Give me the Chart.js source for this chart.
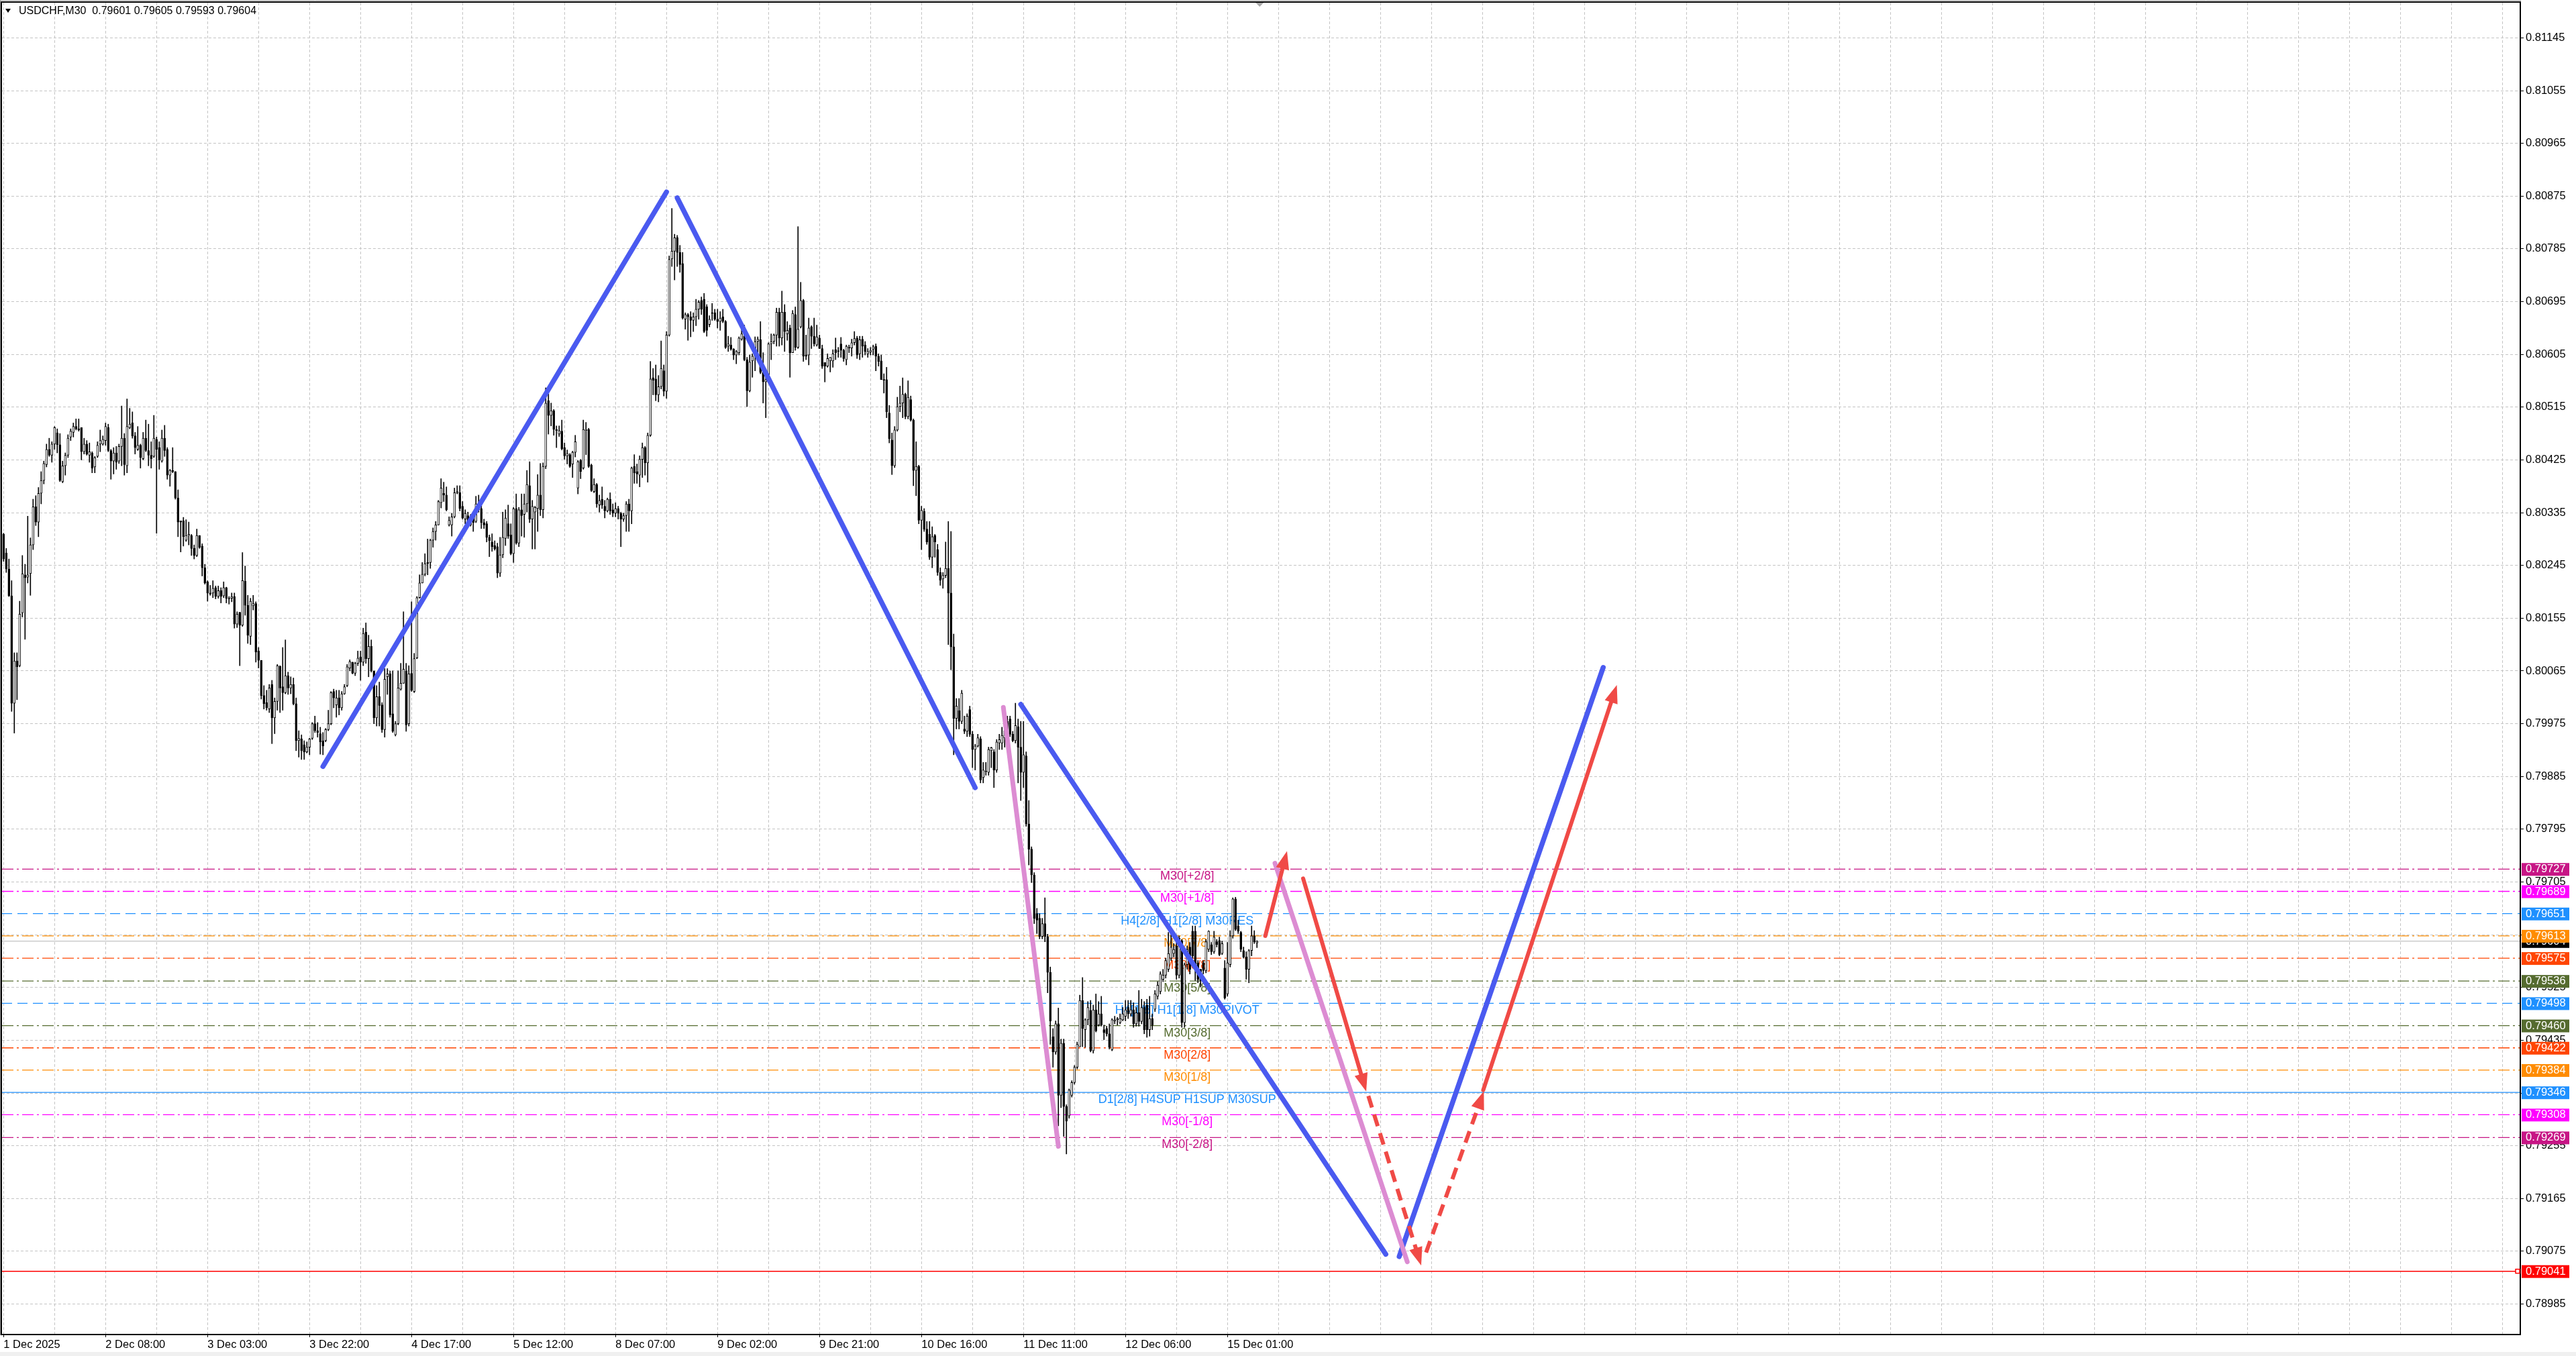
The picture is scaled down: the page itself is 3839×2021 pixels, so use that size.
<!DOCTYPE html>
<html>
<head>
<meta charset="utf-8">
<title>USDCHF,M30</title>
<script src="https://cdn.jsdelivr.net/npm/chart.js@4.4.1/dist/chart.umd.min.js"></script>
<style>
  html, body { margin: 0; padding: 0; background: #fff; overflow: hidden; }
  canvas { display: block; }
</style>
</head>
<body>
<canvas id="chart" width="3839" height="2021"></canvas>
<script>
// ---- data (one value per M30 bar) ----
const symbolName = 'USDCHF,M30';

const opens = [
  0.80298,0.80266,0.80239,0.80193,0.80010,0.80082,0.80074,0.80164,0.80229,0.80225,
  0.80231,0.80280,0.80345,0.80319,0.80368,0.80390,0.80417,0.80443,0.80433,0.80452,
  0.80471,0.80451,0.80388,0.80415,0.80433,0.80464,0.80472,0.80482,0.80478,0.80480,
  0.80439,0.80452,0.80433,0.80437,0.80413,0.80431,0.80452,0.80452,0.80458,0.80480,
  0.80441,0.80423,0.80437,0.80423,0.80448,0.80462,0.80415,0.80480,0.80488,0.80466,
  0.80443,0.80450,0.80427,0.80462,0.80441,0.80433,0.80431,0.80460,0.80446,0.80423,
  0.80462,0.80443,0.80399,0.80407,0.80405,0.80360,0.80321,0.80321,0.80288,0.80296,
  0.80296,0.80274,0.80262,0.80296,0.80278,0.80241,0.80217,0.80198,0.80198,0.80207,
  0.80192,0.80202,0.80193,0.80207,0.80189,0.80189,0.80192,0.80145,0.80165,0.80143,
  0.80218,0.80177,0.80124,0.80176,0.80180,0.80099,0.80083,0.80023,0.80011,0.80000,
  0.80042,0.79985,0.80013,0.80073,0.80038,0.80028,0.80057,0.80036,0.80042,0.80009,
  0.79946,0.79949,0.79939,0.79927,0.79935,0.79950,0.79975,0.79963,0.79958,0.79946,
  0.79946,0.79965,0.79975,0.80030,0.80007,0.80019,0.80002,0.80026,0.80040,0.80070,
  0.80080,0.80061,0.80078,0.80089,0.80080,0.80131,0.80086,0.80107,0.80065,0.79985,
  0.80021,0.80007,0.79965,0.80055,0.80060,0.79992,0.79956,0.79975,0.80034,0.80044,
  0.80065,0.79975,0.80061,0.80030,0.80087,0.80190,0.80215,0.80230,0.80250,0.80250,
  0.80288,0.80303,0.80314,0.80352,0.80368,0.80365,0.80314,0.80314,0.80328,0.80369,
  0.80369,0.80346,0.80324,0.80330,0.80314,0.80326,0.80320,0.80350,0.80342,0.80318,
  0.80316,0.80293,0.80285,0.80279,0.80277,0.80232,0.80263,0.80291,0.80316,0.80297,
  0.80265,0.80342,0.80283,0.80340,0.80332,0.80350,0.80381,0.80324,0.80336,0.80342,
  0.80365,0.80340,0.80414,0.80526,0.80501,0.80509,0.80477,0.80469,0.80474,0.80446,
  0.80432,0.80434,0.80418,0.80438,0.80377,0.80424,0.80411,0.80475,0.80477,0.80416,
  0.80371,0.80383,0.80348,0.80358,0.80346,0.80338,0.80358,0.80340,0.80334,0.80342,
  0.80334,0.80324,0.80330,0.80350,0.80338,0.80414,0.80405,0.80399,0.80426,0.80446,
  0.80420,0.80467,0.80565,0.80563,0.80536,0.80550,0.80577,0.80542,0.80638,0.80768,
  0.80781,0.80804,0.80779,0.80760,0.80665,0.80673,0.80669,0.80663,0.80669,0.80682,
  0.80697,0.80699,0.80686,0.80656,0.80676,0.80676,0.80665,0.80661,0.80669,0.80661,
  0.80619,0.80621,0.80614,0.80604,0.80608,0.80631,0.80636,0.80596,0.80543,0.80594,
  0.80602,0.80627,0.80630,0.80574,0.80558,0.80558,0.80623,0.80627,0.80638,0.80677,
  0.80633,0.80677,0.80640,0.80650,0.80608,0.80673,0.80617,0.80652,0.80697,0.80604,
  0.80604,0.80652,0.80636,0.80621,0.80633,0.80615,0.80591,0.80585,0.80594,0.80594,
  0.80613,0.80611,0.80623,0.80612,0.80596,0.80617,0.80616,0.80625,0.80633,0.80606,
  0.80631,0.80621,0.80606,0.80609,0.80614,0.80619,0.80602,0.80594,0.80562,0.80562,
  0.80505,0.80459,0.80415,0.80476,0.80516,0.80522,0.80537,0.80499,0.80528,0.80493,
  0.80407,0.80414,0.80322,0.80337,0.80307,0.80298,0.80259,0.80296,0.80272,0.80233,
  0.80222,0.80228,0.80240,0.80198,0.80106,0.79984,0.79997,0.79979,0.79966,0.79962,
  0.79999,0.79957,0.79931,0.79937,0.79949,0.79883,0.79894,0.79892,0.79929,0.79927,
  0.79896,0.79942,0.79942,0.79951,0.79979,0.79983,0.79957,0.79946,0.79970,0.79935,
  0.79892,0.79920,0.79804,0.79761,0.79717,0.79651,0.79643,0.79612,0.79634,0.79612,
  0.79551,0.79441,0.79415,0.79463,0.79341,0.79430,0.79322,0.79306,0.79341,0.79363,
  0.79389,0.79424,0.79503,0.79453,0.79470,0.79486,0.79417,0.79487,0.79461,0.79480,
  0.79453,0.79455,0.79446,0.79419,0.79468,0.79470,0.79465,0.79470,0.79476,0.79491,
  0.79480,0.79487,0.79463,0.79482,0.79467,0.79491,0.79495,0.79453,0.79472,0.79488,
  0.79510,0.79518,0.79539,0.79546,0.79556,0.79575,0.79583,0.79596,0.79546,0.79605,
  0.79465,0.79564,0.79594,0.79621,0.79621,0.79567,0.79556,0.79567,0.79554,0.79590,
  0.79598,0.79586,0.79603,0.79605,0.79583,0.79558,0.79514,0.79564,0.79613,0.79676,
  0.79630,0.79619,0.79588,0.79577,0.79556,0.79588,0.79613,0.79601
];

const highs = [
  0.80300,0.80274,0.80256,0.80219,0.80096,0.80096,0.80184,0.80262,0.80247,0.80329,
  0.80292,0.80358,0.80364,0.80378,0.80405,0.80423,0.80452,0.80462,0.80456,0.80482,
  0.80478,0.80470,0.80423,0.80437,0.80468,0.80478,0.80488,0.80495,0.80495,0.80480,
  0.80462,0.80458,0.80454,0.80439,0.80431,0.80456,0.80476,0.80466,0.80488,0.80486,
  0.80443,0.80446,0.80448,0.80452,0.80517,0.80470,0.80529,0.80513,0.80507,0.80472,
  0.80482,0.80452,0.80472,0.80493,0.80486,0.80456,0.80501,0.80464,0.80456,0.80476,
  0.80484,0.80446,0.80409,0.80446,0.80405,0.80374,0.80321,0.80327,0.80323,0.80319,
  0.80298,0.80280,0.80307,0.80296,0.80282,0.80247,0.80219,0.80211,0.80219,0.80210,
  0.80210,0.80207,0.80217,0.80208,0.80192,0.80198,0.80198,0.80166,0.80165,0.80267,
  0.80244,0.80194,0.80189,0.80194,0.80183,0.80105,0.80083,0.80040,0.80032,0.80042,
  0.80049,0.80019,0.80076,0.80074,0.80105,0.80118,0.80063,0.80055,0.80053,0.80019,
  0.79963,0.79956,0.79946,0.79944,0.79950,0.79977,0.79988,0.79977,0.79969,0.79960,
  0.79967,0.79998,0.80030,0.80034,0.80032,0.80032,0.80030,0.80042,0.80076,0.80084,
  0.80080,0.80080,0.80099,0.80099,0.80138,0.80147,0.80126,0.80118,0.80065,0.80040,
  0.80046,0.80011,0.80069,0.80069,0.80065,0.80065,0.79979,0.80065,0.80078,0.80166,
  0.80078,0.80074,0.80183,0.80095,0.80192,0.80229,0.80250,0.80265,0.80290,0.80290,
  0.80309,0.80320,0.80356,0.80393,0.80387,0.80379,0.80328,0.80334,0.80377,0.80381,
  0.80381,0.80354,0.80340,0.80336,0.80332,0.80332,0.80363,0.80365,0.80348,0.80324,
  0.80320,0.80297,0.80299,0.80287,0.80283,0.80293,0.80336,0.80340,0.80348,0.80316,
  0.80344,0.80367,0.80344,0.80367,0.80367,0.80407,0.80422,0.80356,0.80346,0.80400,
  0.80419,0.80420,0.80548,0.80538,0.80522,0.80511,0.80483,0.80483,0.80493,0.80454,
  0.80442,0.80436,0.80440,0.80467,0.80424,0.80426,0.80493,0.80489,0.80479,0.80418,
  0.80393,0.80385,0.80365,0.80379,0.80356,0.80360,0.80369,0.80350,0.80352,0.80346,
  0.80336,0.80334,0.80354,0.80358,0.80413,0.80434,0.80418,0.80432,0.80454,0.80448,
  0.80471,0.80593,0.80581,0.80587,0.80569,0.80628,0.80587,0.80644,0.80773,0.80854,
  0.80810,0.80808,0.80791,0.80779,0.80676,0.80675,0.80678,0.80676,0.80699,0.80697,
  0.80703,0.80709,0.80690,0.80671,0.80692,0.80682,0.80682,0.80678,0.80682,0.80663,
  0.80636,0.80634,0.80615,0.80612,0.80635,0.80654,0.80655,0.80600,0.80604,0.80606,
  0.80635,0.80635,0.80661,0.80608,0.80566,0.80625,0.80640,0.80640,0.80684,0.80684,
  0.80713,0.80690,0.80661,0.80655,0.80680,0.80686,0.80823,0.80728,0.80699,0.80638,
  0.80667,0.80654,0.80667,0.80655,0.80638,0.80621,0.80591,0.80606,0.80600,0.80613,
  0.80633,0.80617,0.80634,0.80614,0.80621,0.80621,0.80631,0.80644,0.80636,0.80636,
  0.80636,0.80627,0.80615,0.80617,0.80621,0.80623,0.80606,0.80604,0.80572,0.80583,
  0.80518,0.80471,0.80482,0.80532,0.80551,0.80565,0.80539,0.80560,0.80534,0.80495,
  0.80456,0.80416,0.80346,0.80342,0.80320,0.80320,0.80311,0.80298,0.80281,0.80241,
  0.80233,0.80285,0.80320,0.80303,0.80128,0.80018,0.80018,0.80032,0.79988,0.79992,
  0.80005,0.79962,0.79940,0.79957,0.79953,0.79909,0.79909,0.79935,0.79935,0.79931,
  0.79948,0.79957,0.79969,0.79970,0.79988,0.79988,0.79962,0.80010,0.79983,0.79979,
  0.79979,0.79927,0.79844,0.79765,0.79721,0.79660,0.79651,0.79643,0.79678,0.79616,
  0.79560,0.79455,0.79468,0.79490,0.79437,0.79437,0.79325,0.79352,0.79366,0.79392,
  0.79432,0.79512,0.79542,0.79472,0.79501,0.79503,0.79495,0.79514,0.79501,0.79510,
  0.79461,0.79459,0.79463,0.79472,0.79476,0.79474,0.79480,0.79491,0.79503,0.79503,
  0.79503,0.79499,0.79491,0.79520,0.79505,0.79501,0.79505,0.79510,0.79480,0.79520,
  0.79535,0.79552,0.79556,0.79575,0.79619,0.79624,0.79600,0.79602,0.79613,0.79607,
  0.79567,0.79596,0.79602,0.79630,0.79630,0.79571,0.79556,0.79571,0.79607,0.79622,
  0.79602,0.79621,0.79607,0.79611,0.79604,0.79571,0.79602,0.79622,0.79678,0.79679,
  0.79640,0.79621,0.79594,0.79586,0.79590,0.79630,0.79622,0.79605
];

const lows = [
  0.80252,0.80233,0.80192,0.79996,0.79959,0.80016,0.80072,0.80157,0.80119,0.80215,
  0.80194,0.80272,0.80313,0.80294,0.80350,0.80384,0.80413,0.80431,0.80421,0.80443,
  0.80437,0.80388,0.80386,0.80399,0.80429,0.80458,0.80464,0.80476,0.80474,0.80425,
  0.80435,0.80433,0.80421,0.80403,0.80403,0.80429,0.80439,0.80450,0.80450,0.80439,
  0.80392,0.80401,0.80409,0.80419,0.80415,0.80399,0.80403,0.80478,0.80462,0.80435,
  0.80441,0.80411,0.80425,0.80439,0.80415,0.80411,0.80429,0.80300,0.80409,0.80421,
  0.80431,0.80392,0.80380,0.80403,0.80358,0.80294,0.80268,0.80278,0.80286,0.80280,
  0.80262,0.80256,0.80260,0.80274,0.80227,0.80213,0.80184,0.80194,0.80190,0.80188,
  0.80189,0.80181,0.80190,0.80181,0.80179,0.80183,0.80138,0.80139,0.80074,0.80141,
  0.80160,0.80112,0.80110,0.80169,0.80080,0.80070,0.80017,0.80000,0.79998,0.79994,
  0.79941,0.79958,0.79998,0.79994,0.79998,0.80026,0.80025,0.80026,0.80007,0.79929,
  0.79918,0.79914,0.79914,0.79925,0.79922,0.79948,0.79960,0.79952,0.79923,0.79922,
  0.79944,0.79963,0.79973,0.80002,0.79986,0.79990,0.79998,0.80025,0.80038,0.80065,
  0.80060,0.80057,0.80074,0.80049,0.80074,0.80078,0.80055,0.80063,0.79975,0.79971,
  0.79971,0.79960,0.79952,0.80025,0.79986,0.79960,0.79954,0.79973,0.80032,0.80044,
  0.79962,0.79971,0.80030,0.80028,0.80086,0.80189,0.80215,0.80227,0.80229,0.80240,
  0.80276,0.80288,0.80314,0.80343,0.80354,0.80338,0.80312,0.80295,0.80326,0.80367,
  0.80338,0.80324,0.80316,0.80314,0.80312,0.80303,0.80318,0.80336,0.80308,0.80308,
  0.80285,0.80260,0.80269,0.80271,0.80224,0.80226,0.80258,0.80279,0.80291,0.80263,
  0.80250,0.80281,0.80277,0.80295,0.80293,0.80336,0.80318,0.80273,0.80273,0.80303,
  0.80330,0.80326,0.80410,0.80469,0.80483,0.80467,0.80446,0.80465,0.80442,0.80426,
  0.80418,0.80412,0.80395,0.80430,0.80367,0.80393,0.80409,0.80434,0.80412,0.80371,
  0.80369,0.80344,0.80336,0.80342,0.80326,0.80336,0.80332,0.80328,0.80328,0.80324,
  0.80277,0.80320,0.80303,0.80303,0.80316,0.80385,0.80385,0.80379,0.80395,0.80399,
  0.80387,0.80465,0.80536,0.80526,0.80524,0.80546,0.80534,0.80530,0.80636,0.80755,
  0.80732,0.80755,0.80745,0.80665,0.80648,0.80629,0.80635,0.80644,0.80654,0.80665,
  0.80673,0.80642,0.80636,0.80652,0.80663,0.80663,0.80650,0.80646,0.80659,0.80615,
  0.80610,0.80612,0.80596,0.80589,0.80604,0.80629,0.80594,0.80516,0.80541,0.80566,
  0.80577,0.80600,0.80572,0.80522,0.80497,0.80556,0.80596,0.80623,0.80619,0.80619,
  0.80621,0.80610,0.80629,0.80566,0.80608,0.80612,0.80615,0.80650,0.80593,0.80596,
  0.80587,0.80615,0.80619,0.80619,0.80615,0.80581,0.80558,0.80583,0.80575,0.80583,
  0.80596,0.80600,0.80600,0.80593,0.80587,0.80608,0.80602,0.80621,0.80598,0.80596,
  0.80600,0.80604,0.80600,0.80604,0.80604,0.80577,0.80585,0.80562,0.80539,0.80497,
  0.80454,0.80400,0.80412,0.80474,0.80507,0.80497,0.80495,0.80495,0.80491,0.80381,
  0.80364,0.80316,0.80272,0.80303,0.80281,0.80255,0.80241,0.80259,0.80228,0.80211,
  0.80206,0.80224,0.80110,0.80067,0.79922,0.79966,0.79966,0.79975,0.79958,0.79953,
  0.79953,0.79900,0.79896,0.79935,0.79874,0.79874,0.79887,0.79887,0.79900,0.79866,
  0.79892,0.79931,0.79931,0.79935,0.79949,0.79953,0.79944,0.79942,0.79874,0.79844,
  0.79866,0.79800,0.79734,0.79704,0.79634,0.79617,0.79608,0.79608,0.79603,0.79516,
  0.79428,0.79389,0.79411,0.79289,0.79320,0.79271,0.79241,0.79302,0.79338,0.79360,
  0.79386,0.79424,0.79424,0.79423,0.79461,0.79415,0.79413,0.79449,0.79459,0.79459,
  0.79436,0.79442,0.79420,0.79417,0.79463,0.79461,0.79463,0.79468,0.79468,0.79472,
  0.79476,0.79457,0.79459,0.79459,0.79463,0.79446,0.79440,0.79442,0.79453,0.79484,
  0.79505,0.79514,0.79535,0.79541,0.79552,0.79571,0.79577,0.79539,0.79541,0.79457,
  0.79457,0.79556,0.79548,0.79575,0.79537,0.79533,0.79526,0.79548,0.79550,0.79586,
  0.79581,0.79583,0.79594,0.79579,0.79581,0.79505,0.79510,0.79560,0.79609,0.79622,
  0.79617,0.79586,0.79575,0.79539,0.79533,0.79579,0.79600,0.79593
];

const closes = [
  0.80256,0.80239,0.80193,0.80010,0.80082,0.80072,0.80162,0.80231,0.80224,0.80229,
  0.80280,0.80345,0.80319,0.80368,0.80390,0.80419,0.80443,0.80433,0.80452,0.80480,
  0.80451,0.80390,0.80415,0.80433,0.80462,0.80474,0.80482,0.80478,0.80476,0.80439,
  0.80452,0.80435,0.80439,0.80411,0.80429,0.80450,0.80458,0.80460,0.80482,0.80441,
  0.80423,0.80437,0.80421,0.80448,0.80462,0.80417,0.80482,0.80486,0.80466,0.80446,
  0.80450,0.80429,0.80462,0.80441,0.80433,0.80427,0.80462,0.80443,0.80425,0.80462,
  0.80441,0.80399,0.80407,0.80405,0.80360,0.80319,0.80319,0.80294,0.80296,0.80298,
  0.80274,0.80262,0.80296,0.80276,0.80241,0.80215,0.80198,0.80196,0.80206,0.80192,
  0.80202,0.80192,0.80207,0.80189,0.80188,0.80192,0.80145,0.80162,0.80143,0.80219,
  0.80177,0.80126,0.80184,0.80180,0.80097,0.80083,0.80023,0.80009,0.80002,0.80036,
  0.79985,0.80013,0.80074,0.80036,0.80028,0.80057,0.80036,0.80042,0.80009,0.79946,
  0.79950,0.79929,0.79927,0.79935,0.79949,0.79975,0.79963,0.79960,0.79944,0.79937,
  0.79965,0.79975,0.80028,0.80019,0.80019,0.80002,0.80026,0.80038,0.80072,0.80081,
  0.80061,0.80078,0.80087,0.80080,0.80129,0.80086,0.80107,0.80065,0.79985,0.80021,
  0.80006,0.79965,0.80051,0.80060,0.79990,0.79962,0.79975,0.80036,0.80044,0.80068,
  0.79973,0.80060,0.80032,0.80086,0.80190,0.80215,0.80230,0.80248,0.80248,0.80288,
  0.80303,0.80314,0.80354,0.80377,0.80365,0.80340,0.80322,0.80328,0.80369,0.80371,
  0.80342,0.80326,0.80334,0.80320,0.80328,0.80318,0.80350,0.80340,0.80318,0.80314,
  0.80293,0.80287,0.80277,0.80273,0.80232,0.80263,0.80293,0.80326,0.80295,0.80265,
  0.80342,0.80283,0.80340,0.80330,0.80350,0.80383,0.80324,0.80346,0.80344,0.80365,
  0.80340,0.80414,0.80522,0.80501,0.80509,0.80477,0.80475,0.80475,0.80444,0.80432,
  0.80436,0.80414,0.80438,0.80456,0.80422,0.80405,0.80477,0.80477,0.80414,0.80373,
  0.80383,0.80350,0.80356,0.80348,0.80338,0.80358,0.80338,0.80334,0.80342,0.80334,
  0.80324,0.80330,0.80350,0.80338,0.80411,0.80403,0.80401,0.80426,0.80446,0.80420,
  0.80467,0.80563,0.80561,0.80536,0.80550,0.80581,0.80542,0.80638,0.80767,0.80781,
  0.80804,0.80779,0.80758,0.80667,0.80673,0.80669,0.80663,0.80669,0.80682,0.80694,
  0.80682,0.80644,0.80646,0.80665,0.80675,0.80665,0.80661,0.80667,0.80661,0.80617,
  0.80623,0.80614,0.80604,0.80610,0.80633,0.80640,0.80596,0.80543,0.80592,0.80602,
  0.80627,0.80631,0.80574,0.80558,0.80562,0.80623,0.80627,0.80638,0.80677,0.80633,
  0.80677,0.80644,0.80646,0.80608,0.80675,0.80617,0.80648,0.80697,0.80602,0.80602,
  0.80650,0.80636,0.80623,0.80635,0.80615,0.80585,0.80585,0.80598,0.80600,0.80606,
  0.80608,0.80610,0.80612,0.80598,0.80619,0.80616,0.80625,0.80632,0.80604,0.80630,
  0.80619,0.80610,0.80610,0.80612,0.80618,0.80602,0.80593,0.80562,0.80561,0.80507,
  0.80461,0.80415,0.80476,0.80516,0.80522,0.80537,0.80499,0.80532,0.80493,0.80407,
  0.80414,0.80322,0.80339,0.80307,0.80285,0.80259,0.80294,0.80285,0.80233,0.80220,
  0.80228,0.80240,0.80198,0.80106,0.79984,0.80005,0.79979,0.80027,0.79962,0.79988,
  0.79957,0.79931,0.79937,0.79951,0.79879,0.79896,0.79893,0.79931,0.79934,0.79896,
  0.79944,0.79948,0.79955,0.79963,0.79962,0.79957,0.79946,0.79972,0.79935,0.79892,
  0.79922,0.79804,0.79761,0.79717,0.79643,0.79640,0.79612,0.79634,0.79612,0.79551,
  0.79468,0.79415,0.79463,0.79341,0.79430,0.79322,0.79297,0.79350,0.79363,0.79389,
  0.79428,0.79503,0.79455,0.79470,0.79491,0.79417,0.79487,0.79451,0.79480,0.79461,
  0.79448,0.79446,0.79423,0.79470,0.79470,0.79472,0.79472,0.79480,0.79487,0.79480,
  0.79487,0.79463,0.79482,0.79467,0.79491,0.79453,0.79453,0.79472,0.79461,0.79514,
  0.79529,0.79548,0.79546,0.79571,0.79583,0.79594,0.79590,0.79546,0.79609,0.79465,
  0.79564,0.79590,0.79556,0.79579,0.79556,0.79539,0.79537,0.79554,0.79603,0.79621,
  0.79586,0.79611,0.79598,0.79581,0.79600,0.79507,0.79567,0.79613,0.79676,0.79624,
  0.79621,0.79590,0.79577,0.79556,0.79588,0.79613,0.79603,0.79604
];

// time axis labels (one every 38 bars) and price axis ticks
const timeLabels = ['1 Dec 2025', '2 Dec 08:00', '3 Dec 03:00', '3 Dec 22:00', '4 Dec 17:00',
  '5 Dec 12:00', '8 Dec 07:00', '9 Dec 02:00', '9 Dec 21:00', '10 Dec 16:00',
  '11 Dec 11:00', '12 Dec 06:00', '15 Dec 01:00'];
const priceTicks = [0.78985, 0.79075, 0.79165, 0.79255, 0.79345, 0.79435, 0.79525, 0.79615,
  0.79705, 0.79795, 0.79885, 0.79975, 0.80065, 0.80155, 0.80245, 0.80335, 0.80425, 0.80515,
  0.80605, 0.80695, 0.80785, 0.80875, 0.80965, 0.81055, 0.81145];

// Murrey-math style levels
const levelPrices = [0.79727, 0.79689, 0.79651, 0.79613, 0.79575, 0.79536, 0.79498,
  0.79460, 0.79422, 0.79384, 0.79346, 0.79308, 0.79269];
const levelNames = ['M30[+2/8]', 'M30[+1/8]', 'H4[2/8] H1[2/8] M30RES', 'M30[7/8]', 'M30[6/8]',
  'M30[5/8]', 'H4[1/8] H1[1/8] M30PIVOT', 'M30[3/8]', 'M30[2/8]', 'M30[1/8]',
  'D1[2/8] H4SUP H1SUP M30SUP', 'M30[-1/8]', 'M30[-2/8]'];
const bidPrice = 0.79604;
const alertPrice = 0.79041;

// hand drawn wave lines: [bar, price] start / end
const waveBlue = [
  [[119, 0.79902], [247, 0.80882]],
  [[251, 0.80872], [362, 0.79866]],
  [[379, 0.80008], [515, 0.79070]],
  [[520, 0.79066], [596, 0.80071]]
];
const wavePink = [
  [[372.5, 0.80003], [393, 0.79254]],
  [[473.7, 0.79737], [523, 0.79057]]
];
const arrowRed = [
  [[470.1, 0.79613], [476.7, 0.79731]],
  [[484.2, 0.79711], [506.0, 0.79374]],
  [[551.3, 0.79350], [599.2, 0.80015]]
];
const arrowRedDashed = [
  [[508.5, 0.79340], [526.4, 0.79077]],
  [[530.0, 0.79073], [549.5, 0.79322]]
];

// ---- presentation ----
const X_MIN = -0.58, X_MAX = 937.7;
const Y_MIN = 0.78933, Y_MAX = 0.81205;
const GRID_STEP = 19;
const LABEL_BAR = 441;
const FONT = '"Liberation Sans", Arial, sans-serif';
const levelColors = ['#c71585', '#ff00ff', '#1e90ff', '#ff8c00', '#ff4500', '#556b2f', '#1e90ff',
  '#556b2f', '#ff4500', '#ff8c00', '#1e90ff', '#ff00ff', '#c71585'];
const levelDash = { m: [17, 5, 3, 5], d: [15, 8], s: [] };
const levelKind = ['m', 'm', 'd', 'm', 'm', 'm', 'd', 'm', 'm', 'm', 's', 'm', 'm'];
const BLUE = '#4a5af0', PINK = '#dc8cd2', RED = '#f04a46';

const n = closes.length;
const idx = Array.from({ length: n }, (_, i) => i);

const toPts = seg => seg.map(p => ({ x: p[0], y: p[1] }));
const lineSet = (seg, color, width, extra) => Object.assign({
  type: 'line', data: toPts(seg), borderColor: color, borderWidth: width,
  pointRadius: 0, borderCapStyle: 'round', fill: false, tension: 0, order: 1
}, extra || {});
const hLine = (price, color, width, dash, order) => ({
  type: 'line', data: [{ x: X_MIN, y: price }, { x: X_MAX, y: price }],
  borderColor: color, borderWidth: width, borderDash: dash, pointRadius: 0,
  fill: false, order: order
});

const datasets = [];
arrowRed.forEach(s => datasets.push(lineSet(s, RED, 6, { order: 0, arrowHead: true })));
arrowRedDashed.forEach(s => datasets.push(lineSet(s, RED, 6, { order: 0, arrowHead: true, borderDash: [18, 11], borderCapStyle: 'butt' })));
wavePink.forEach(s => datasets.push(lineSet(s, PINK, 7, { order: 1 })));
waveBlue.forEach(s => datasets.push(lineSet(s, BLUE, 7.5, { order: 2 })));

datasets.push({
  type: 'bar', label: 'body', order: 5, grouped: false,
  data: idx.map(i => ({ x: i, y: [opens[i], closes[i]] })),
  backgroundColor: idx.map(i => closes[i] >= opens[i] ? '#ffffff' : '#000000'),
  borderColor: '#000000', borderWidth: 1, borderSkipped: false,
  barThickness: 3, minBarLength: 1
});
datasets.push({
  type: 'bar', label: 'wick', order: 6, grouped: false,
  data: idx.map(i => ({ x: i, y: [lows[i], highs[i]] })),
  backgroundColor: '#000000', borderWidth: 0, barThickness: 1, minBarLength: 1
});

levelPrices.forEach((p, i) => datasets.push(hLine(p, levelColors[i], 1.3, levelDash[levelKind[i]], 8)));
datasets.push(hLine(bidPrice, '#b4b4b4', 1.2, [], 9));
datasets.push(hLine(alertPrice, '#ff0000', 1.5, [], 7));

const mt5Overlay = {
  id: 'mt5Overlay',
  beforeDraw(chart) {
    const c = chart.ctx;
    c.save();
    c.fillStyle = '#ffffff';
    c.fillRect(0, 0, chart.width, chart.height);
    c.fillStyle = '#f0f0f0';
    c.fillRect(0, chart.height - 6, chart.width, 6);
    c.restore();
  },
  beforeDatasetsDraw(chart) {
    const c = chart.ctx, x = chart.scales.x, y = chart.scales.y;
    c.save();
    c.font = '18px ' + FONT;
    c.textAlign = 'center';
    c.textBaseline = 'middle';
    const cx = x.getPixelForValue(LABEL_BAR);
    levelPrices.forEach((p, i) => {
      c.fillStyle = levelColors[i];
      c.fillText(levelNames[i], cx, y.getPixelForValue(p) + 11);
    });
    c.restore();
  },
  afterDatasetsDraw(chart) {
    const c = chart.ctx;
    chart.data.datasets.forEach((ds, i) => {
      if (!ds.arrowHead) return;
      const pts = chart.getDatasetMeta(i).data;
      const a = pts[pts.length - 2], b = pts[pts.length - 1];
      const ang = Math.atan2(b.y - a.y, b.x - a.x);
      const ux = Math.cos(ang), uy = Math.sin(ang);
      const len = 24, half = 10, back = 3;
      const bx = b.x - ux * back, by = b.y - uy * back;
      c.save();
      c.fillStyle = ds.borderColor;
      c.beginPath();
      c.moveTo(b.x + ux * len, b.y + uy * len);
      c.lineTo(bx - uy * half, by + ux * half);
      c.lineTo(bx + uy * half, by - ux * half);
      c.closePath();
      c.fill();
      c.restore();
    });
  },
  afterDraw(chart) {
    const c = chart.ctx, area = chart.chartArea, x = chart.scales.x, y = chart.scales.y;
    c.save();
    // frame
    c.strokeStyle = '#000000';
    c.lineWidth = 2;
    c.strokeRect(area.left - 1, area.top - 1, area.right - area.left + 1, area.bottom - area.top + 1);
    c.strokeStyle = '#a0a0a0';
    c.lineWidth = 1;
    c.beginPath();
    c.moveTo(0.5, 0); c.lineTo(0.5, area.bottom + 1);
    c.moveTo(0, 0.5); c.lineTo(area.right + 1, 0.5);
    c.stroke();

    // price boxes on the right axis
    c.font = '16.5px ' + FONT;
    c.textAlign = 'left';
    c.textBaseline = 'middle';
    const box = (price, bg) => {
      const py = y.getPixelForValue(price);
      c.fillStyle = bg;
      c.fillRect(area.right + 2, py - 9, 71, 19);
      c.fillStyle = '#ffffff';
      c.fillText(price.toFixed(5), area.right + 8, py + 0.5);
    };
    box(bidPrice, '#000000');
    levelPrices.forEach((p, i) => box(p, levelColors[i]));
    box(alertPrice, '#ff0000');

    // small marker at the end of the alert line
    const ay = y.getPixelForValue(alertPrice);
    c.fillStyle = '#ffffff';
    c.strokeStyle = '#ff0000';
    c.lineWidth = 1.5;
    c.fillRect(area.right - 7, ay - 3, 6, 6);
    c.strokeRect(area.right - 7, ay - 3, 6, 6);

    // chart shift marker at the top edge
    const sx = x.getPixelForValue(n);
    c.fillStyle = '#a8a8a8';
    c.beginPath();
    c.moveTo(sx - 6, area.top);
    c.lineTo(sx + 6, area.top);
    c.lineTo(sx, area.top + 6);
    c.closePath();
    c.fill();

    // header: symbol and last bar OHLC
    const last = n - 1;
    c.fillStyle = '#000000';
    c.beginPath();
    c.moveTo(8, 13); c.lineTo(16, 13); c.lineTo(12, 19);
    c.closePath();
    c.fill();
    c.font = '16px ' + FONT;
    c.fillText(symbolName + '  ' + [opens[last], highs[last], lows[last], closes[last]]
      .map(v => v.toFixed(5)).join(' '), 28, 17);
    c.restore();
  }
};

new Chart(document.getElementById('chart'), {
  type: 'line',
  data: { datasets: datasets },
  options: {
    responsive: false,
    animation: false,
    devicePixelRatio: 1,
    layout: { padding: { left: 3, top: 4, right: 0, bottom: 0 } },
    plugins: { legend: { display: false }, tooltip: { enabled: false } },
    scales: {
      x: {
        type: 'linear', min: X_MIN, max: X_MAX, offset: false,
        afterBuildTicks: scale => {
          const t = [];
          for (let v = 0; v <= X_MAX; v += GRID_STEP) t.push({ value: v });
          scale.ticks = t;
        },
        afterFit: scale => {
          scale.height = 32;
          scale.paddingLeft = 0;
          scale.paddingRight = 0;
        },
        grid: {
          color: '#c4c4c4', lineWidth: 1, offset: false,
          tickLength: 4, tickBorderDash: [],
          tickColor: ctx => (ctx.index % 2 === 0 && ctx.index / 2 < timeLabels.length) ? '#000000' : 'rgba(0,0,0,0)'
        },
        border: { display: false, dash: [4, 3] },
        ticks: {
          autoSkip: false, maxRotation: 0, align: 'start', padding: 2,
          color: '#000000', font: { family: FONT, size: 16.5 },
          callback: (v, i) => (i % 2 === 0 && timeLabels[i / 2]) ? timeLabels[i / 2] : ''
        }
      },
      y: {
        type: 'linear', position: 'right', min: Y_MIN, max: Y_MAX,
        afterBuildTicks: scale => { scale.ticks = priceTicks.map(v => ({ value: v })); },
        afterFit: scale => {
          scale.width = 83;
          scale.paddingTop = 0;
          scale.paddingBottom = 0;
        },
        grid: { color: '#c4c4c4', lineWidth: 1, tickLength: 5, tickColor: '#000000', tickBorderDash: [] },
        border: { display: false, dash: [4, 3] },
        ticks: {
          autoSkip: false, padding: 3, color: '#000000',
          font: { family: FONT, size: 16.5 },
          callback: v => v.toFixed(5)
        }
      }
    }
  },
  plugins: [mt5Overlay]
});
</script>
</body>
</html>
